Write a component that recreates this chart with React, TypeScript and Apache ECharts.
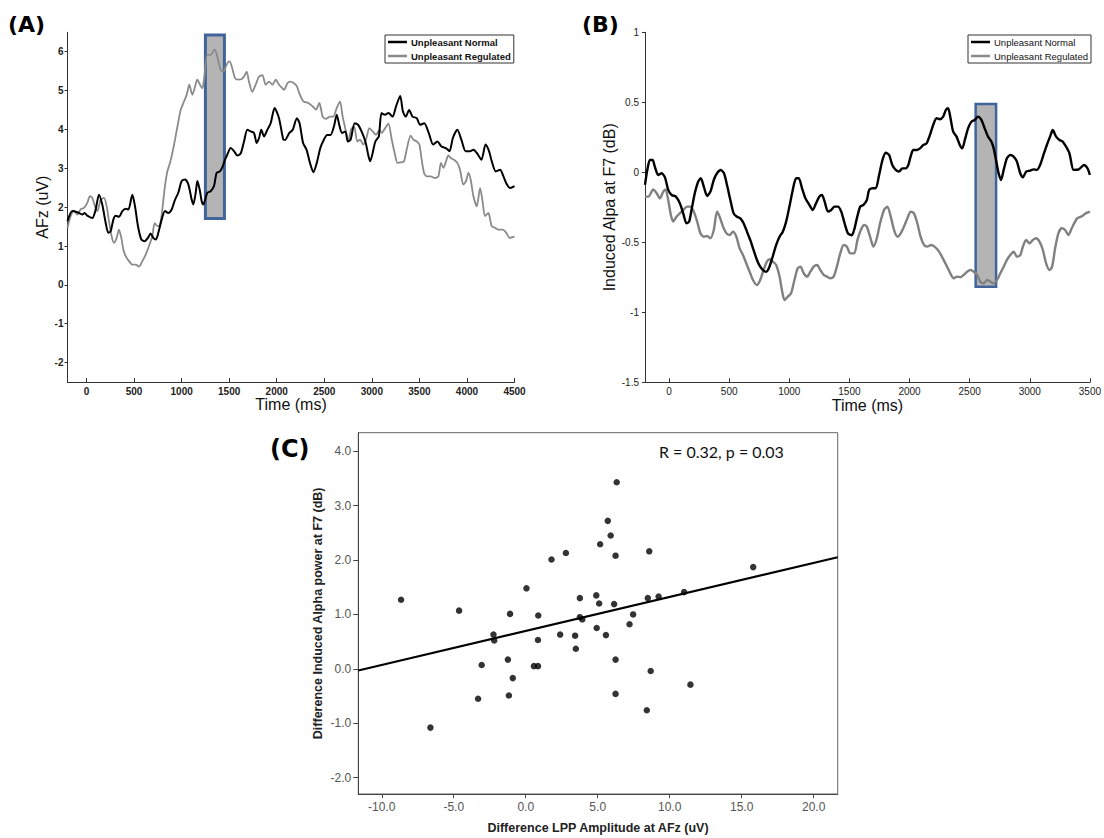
import React, { useEffect, useRef } from "react";
import * as echarts from "echarts";

// ---------- Panel A: AFz ERP (uV) ----------
const aNormal: [number, number][] = [
  [-200,1.64],[-149,1.90],[-97,1.87],[-44,1.81],[-20,1.85],[8,1.78],[61,1.72],[96,1.94],[131,2.32],[166,2.06],
  [201,1.60],[229,1.34],[254,1.38],[282,1.68],[306,1.78],[341,1.75],[377,1.90],[412,1.96],[440,1.94],[482,2.32],
  [510,2.02],[541,1.51],[576,1.17],[611,1.12],[646,1.21],[674,1.32],[702,1.21],[730,1.17],[755,1.34],[790,1.68],
  [825,1.90],[860,1.85],[895,1.94],[930,2.19],[965,2.37],[1000,2.67],[1036,2.71],[1071,2.58],[1106,2.19],[1123,2.07],
  [1148,2.37],[1165,2.67],[1190,2.45],[1211,2.15],[1228,2.07],[1270,2.37],[1305,2.41],[1340,2.54],[1368,2.88],[1403,2.92],
  [1432,3.05],[1456,3.22],[1480,3.35],[1516,3.52],[1551,3.44],[1586,3.33],[1621,3.38],[1656,3.69],[1691,3.99],[1726,3.95],
  [1761,3.91],[1789,3.65],[1814,3.78],[1838,3.99],[1866,3.82],[1901,3.99],[1936,4.16],[1978,4.55],[2024,4.29],[2069,3.74],
  [2088,3.73],[2132,3.91],[2168,3.99],[2212,4.29],[2240,4.16],[2277,3.65],[2313,3.48],[2349,3.14],[2385,2.90],[2421,3.14],
  [2458,3.52],[2494,3.73],[2530,3.86],[2566,3.86],[2602,4.08],[2631,4.38],[2657,4.12],[2686,3.91],[2722,3.95],[2747,3.69],
  [2776,3.73],[2820,4.16],[2856,4.12],[2899,3.91],[2936,3.65],[2965,3.31],[2983,3.18],[3008,3.39],[3037,3.69],[3073,3.82],
  [3102,4.42],[3138,4.38],[3175,4.42],[3218,4.33],[3254,4.59],[3298,4.86],[3327,4.46],[3356,4.33],[3392,4.50],[3428,4.33],
  [3472,4.29],[3508,4.12],[3551,4.16],[3598,3.91],[3645,3.61],[3689,3.69],[3732,3.56],[3779,3.52],[3816,3.44],[3852,3.78],
  [3899,3.99],[3942,3.73],[3986,3.44],[4033,3.44],[4069,3.48],[4105,3.39],[4152,3.22],[4196,3.61],[4232,3.44],[4261,3.18],
  [4304,2.92],[4348,2.96],[4384,2.79],[4420,2.58],[4456,2.49],[4500,2.54]
];
const aRegulated: [number, number][] = [
  [-200,1.47],[-167,1.77],[-132,1.90],[-97,1.81],[-62,1.94],[-27,1.98],[8,2.11],[36,2.28],[61,2.24],[89,2.02],
  [114,1.90],[149,2.19],[184,2.24],[212,2.02],[236,1.64],[264,1.25],[289,1.08],[317,1.21],[341,1.42],[366,1.21],
  [387,0.91],[412,0.74],[447,0.61],[482,0.52],[517,0.52],[552,0.47],[587,0.61],[622,0.78],[657,1.00],[692,1.25],
  [716,1.59],[745,1.51],[773,1.55],[797,1.94],[822,2.49],[850,2.92],[878,3.14],[902,3.39],[930,3.73],[962,4.16],
  [990,4.50],[1025,4.72],[1053,4.89],[1081,5.15],[1113,4.89],[1141,5.10],[1165,5.28],[1193,5.15],[1218,5.06],[1235,5.28],
  [1270,5.92],[1305,5.92],[1347,6.06],[1375,5.87],[1411,5.53],[1438,5.49],[1480,5.70],[1505,5.75],[1533,5.57],[1561,5.32],
  [1593,5.28],[1628,5.29],[1656,5.36],[1684,5.49],[1708,5.23],[1743,4.97],[1778,5.15],[1814,5.36],[1849,5.40],[1884,5.15],
  [1919,5.23],[1954,5.15],[1989,5.28],[2024,5.15],[2059,5.06],[2077,5.02],[2112,5.19],[2140,5.23],[2182,5.19],[2210,5.12],
  [2238,4.93],[2280,4.72],[2332,4.68],[2378,4.59],[2413,4.51],[2448,4.68],[2483,4.33],[2518,4.27],[2560,4.33],[2595,4.33],
  [2630,4.55],[2665,4.72],[2693,4.33],[2728,3.95],[2753,3.69],[2781,3.99],[2813,4.08],[2848,3.69],[2876,3.74],[2911,3.61],
  [2939,3.74],[2974,4.03],[3009,3.95],[3044,3.86],[3079,3.99],[3104,3.91],[3139,4.03],[3174,4.15],[3209,3.74],[3244,3.35],
  [3268,3.14],[3303,3.15],[3338,3.18],[3366,3.48],[3408,3.84],[3436,3.74],[3472,3.69],[3500,3.61],[3524,3.22],[3549,2.88],
  [3577,2.79],[3619,2.79],[3664,2.75],[3699,2.79],[3727,3.14],[3752,3.01],[3780,3.18],[3804,3.33],[3833,3.26],[3864,3.22],
  [3899,3.14],[3927,2.96],[3962,2.58],[3990,2.67],[4015,2.88],[4039,2.71],[4068,2.28],[4103,2.02],[4138,2.49],[4162,2.19],
  [4190,1.77],[4225,1.85],[4260,1.51],[4295,1.47],[4330,1.42],[4377,1.42],[4413,1.34],[4449,1.21],[4500,1.24]
];
const aXTicks = [0, 500, 1000, 1500, 2000, 2500, 3000, 3500, 4000, 4500];
const aYTicks = [-2, -1, 0, 1, 2, 3, 4, 5, 6];
const aWindow: [number, number, number, number] = [1250, 1.71, 1450, 6.43]; // t0, v0, t1, v1

// ---------- Panel B: induced alpha at F7 (dB) ----------
const bNormal: [number, number][] = [
  [-200,-0.09],[-181,0.016],[-159,0.088],[-137,0.088],[-117,0.036],[-90,-0.019],[-62,-0.007],[-34,-0.036],[-7,-0.126],[21,-0.162],
  [57,-0.174],[90,-0.222],[118,-0.293],[145,-0.364],[167,-0.352],[187,-0.269],[214,-0.150],[242,-0.067],[264,-0.043],[289,-0.102],
  [316,-0.169],[344,-0.138],[372,-0.055],[399,-0.007],[430,0.016],[457,-0.007],[482,-0.091],[510,-0.198],[537,-0.293],[565,-0.317],
  [593,-0.329],[620,-0.364],[648,-0.424],[675,-0.483],[703,-0.555],[731,-0.626],[758,-0.674],[786,-0.702],[808,-0.710],[830,-0.686],
  [858,-0.614],[891,-0.519],[919,-0.460],[946,-0.424],[974,-0.352],[1001,-0.245],[1029,-0.126],[1057,-0.043],[1079,-0.043],[1106,-0.114],
  [1134,-0.186],[1167,-0.233],[1195,-0.269],[1222,-0.222],[1250,-0.174],[1272,-0.162],[1294,-0.210],[1322,-0.281],[1349,-0.269],[1377,-0.245],
  [1405,-0.245],[1432,-0.281],[1460,-0.364],[1488,-0.436],[1520,-0.450],[1543,-0.400],[1562,-0.329],[1590,-0.245],[1617,-0.233],[1645,-0.198],
  [1664,-0.126],[1692,-0.114],[1719,-0.114],[1747,-0.019],[1775,0.088],[1802,0.140],[1830,0.124],[1857,0.052],[1885,0.017],[1913,0.005],
  [1940,0.028],[1968,0.028],[1990,0.052],[2009,0.112],[2031,0.159],[2059,0.159],[2087,0.171],[2114,0.195],[2142,0.207],[2170,0.267],
  [2197,0.338],[2225,0.386],[2252,0.379],[2280,0.398],[2302,0.445],[2321,0.457],[2341,0.386],[2363,0.290],[2391,0.255],[2418,0.195],
  [2438,0.171],[2460,0.231],[2487,0.314],[2515,0.362],[2542,0.374],[2570,0.398],[2598,0.374],[2625,0.314],[2653,0.255],[2681,0.219],
  [2700,0.171],[2722,0.076],[2741,-0.007],[2761,-0.055],[2783,0.017],[2810,0.100],[2838,0.124],[2866,0.112],[2893,0.076],[2921,-0.007],
  [2943,-0.036],[2970,0.005],[3004,0.012],[3031,0.021],[3059,0.017],[3086,0.052],[3114,0.124],[3142,0.195],[3169,0.255],[3191,0.302],
  [3219,0.255],[3247,0.231],[3274,0.219],[3302,0.183],[3330,0.136],[3365,0.017],[3408,0.021],[3451,0.052],[3480,0.029],[3500,-0.019]
];
const bRegulated: [number, number][] = [
  [-200,-0.174],[-172,-0.174],[-131,-0.122],[-103,-0.150],[-76,-0.186],[-48,-0.138],[-29,-0.122],[-7,-0.198],[15,-0.305],[35,-0.352],
  [62,-0.317],[90,-0.293],[118,-0.269],[151,-0.245],[178,-0.245],[206,-0.281],[234,-0.352],[261,-0.436],[289,-0.460],[316,-0.455],
  [344,-0.471],[372,-0.412],[399,-0.281],[421,-0.317],[449,-0.388],[477,-0.436],[504,-0.448],[532,-0.424],[560,-0.460],[587,-0.543],
  [615,-0.591],[642,-0.650],[670,-0.710],[698,-0.769],[731,-0.805],[758,-0.769],[786,-0.698],[814,-0.638],[836,-0.621],[863,-0.638],
  [891,-0.662],[919,-0.745],[941,-0.852],[960,-0.912],[988,-0.888],[1015,-0.864],[1043,-0.769],[1070,-0.686],[1093,-0.674],[1120,-0.721],
  [1148,-0.745],[1175,-0.710],[1203,-0.674],[1231,-0.662],[1258,-0.698],[1286,-0.733],[1314,-0.745],[1341,-0.757],[1369,-0.745],[1396,-0.674],
  [1424,-0.579],[1452,-0.519],[1479,-0.531],[1507,-0.579],[1540,-0.579],[1567,-0.483],[1595,-0.412],[1623,-0.376],[1645,-0.388],[1672,-0.460],
  [1700,-0.531],[1728,-0.471],[1755,-0.364],[1788,-0.269],[1816,-0.245],[1844,-0.317],[1871,-0.412],[1899,-0.460],[1927,-0.436],[1954,-0.388],
  [1982,-0.329],[2009,-0.281],[2037,-0.293],[2065,-0.364],[2092,-0.460],[2120,-0.519],[2147,-0.531],[2181,-0.519],[2208,-0.531],[2236,-0.555],
  [2263,-0.591],[2291,-0.638],[2319,-0.686],[2346,-0.733],[2368,-0.757],[2396,-0.745],[2424,-0.750],[2451,-0.733],[2479,-0.710],[2507,-0.698],
  [2534,-0.710],[2562,-0.733],[2589,-0.781],[2617,-0.793],[2645,-0.769],[2672,-0.781],[2700,-0.793],[2728,-0.769],[2755,-0.721],[2783,-0.674],
  [2810,-0.626],[2838,-0.591],[2866,-0.567],[2893,-0.603],[2921,-0.591],[2943,-0.531],[2970,-0.483],[2998,-0.507],[3026,-0.483],[3053,-0.471],
  [3081,-0.495],[3109,-0.555],[3136,-0.650],[3164,-0.698],[3186,-0.674],[3211,-0.543],[3238,-0.436],[3266,-0.400],[3294,-0.412],[3321,-0.448],
  [3349,-0.400],[3394,-0.329],[3437,-0.312],[3466,-0.293],[3500,-0.281]
];
const bXTicks = [0, 500, 1000, 1500, 2000, 2500, 3000, 3500];
const bYTicks = [-1.5, -1, -0.5, 0, 0.5, 1];
const bWindow: [number, number, number, number] = [2550, -0.817, 2720, 0.488]; // t0, v0, t1, v1

// ---------- Panel C: scatter ----------
const cPoints: [number, number][] = [
  [-8.66,1.27],[-6.62,-1.08],[-4.63,1.07],[-3.31,-0.55],[-3.06,0.07],[-2.24,0.63],[-2.19,0.52],[-1.24,0.17],[-1.17,-0.49],[-1.09,1.01],
  [-0.90,-0.17],[0.05,1.48],[0.57,0.05],[0.85,0.05],[0.85,0.53],[0.87,0.98],[1.79,2.01],[2.39,0.63],[2.79,2.13],[3.43,0.61],
  [3.48,0.37],[3.76,1.30],[3.76,0.95],[3.93,0.91],[4.90,1.35],[4.93,0.75],[5.10,1.20],[5.17,2.29],[5.57,0.62],[5.70,2.72],
  [5.90,2.45],[6.14,1.19],[6.24,2.08],[6.24,0.17],[6.24,-0.46],[6.32,3.43],[7.21,0.82],[7.46,1.00],[8.41,-0.76],[8.48,1.30],
  [8.58,2.16],[8.68,-0.04],[9.23,1.33],[11.00,1.41],[11.44,-0.29],[15.80,1.87]
];
const cFit = { intercept: 0.697, slope: 0.0625 };
const cXRange = [-11.63, 21.67];
const cYRange = [-2.3, 4.34];
const cXTicks = [-10, -5, 0, 5, 10, 15, 20];
const cYTicks = [-2, -1, 0, 1, 2, 3, 4];

const FONT = "'Liberation Sans', Arial, sans-serif";

export default function App() {
  const ref = useRef<HTMLDivElement>(null);
  useEffect(() => {
    if (!ref.current) return;
    const chart = echarts.init(ref.current, undefined, { renderer: "svg" });

    const plain = (v: number) => String(v);

    const mlAxisX = (grid: number, min: number, max: number, ticks: number[], bold: boolean) => ({
      gridIndex: grid, type: "value", min, max,
      axisLine: { show: true, onZero: false, lineStyle: { color: "#333", width: 1 } },
      axisTick: { show: true, inside: true, length: 4, customValues: ticks, lineStyle: { color: "#333" } },
      axisLabel: { customValues: ticks, formatter: plain, fontSize: 10, fontWeight: bold ? "bold" : "normal", color: "#222", margin: 4, fontFamily: FONT },
      splitLine: { show: false },
      name: "Time (ms)", nameLocation: "middle", nameGap: 12,
      nameTextStyle: { fontSize: 16, color: "#111", fontFamily: FONT },
    });
    const mlAxisY = (grid: number, min: number, max: number, ticks: number[], bold: boolean, name: string, gap: number, margin: number) => ({
      gridIndex: grid, type: "value", min, max,
      axisLine: { show: true, onZero: false, lineStyle: { color: "#333", width: 1 } },
      axisTick: { show: true, inside: false, length: 3, customValues: ticks, lineStyle: { color: "#333" } },
      axisLabel: { customValues: ticks, formatter: plain, fontSize: 10, fontWeight: bold ? "bold" : "normal", color: "#222", margin, fontFamily: FONT },
      splitLine: { show: false },
      name, nameLocation: "middle", nameGap: gap,
      nameTextStyle: { fontSize: 16, color: "#111", fontFamily: FONT },
    });

    const windowSeries = (axis: number, w: [number, number, number, number], bw: number) => ({
      type: "custom", name: "window", xAxisIndex: axis, yAxisIndex: axis, z: 1, silent: true,
      data: [w],
      renderItem: (_p: any, api: any) => {
        const tl = api.coord([api.value(0), api.value(3)]);
        const br = api.coord([api.value(2), api.value(1)]);
        return {
          type: "rect",
          shape: { x: tl[0], y: tl[1], width: br[0] - tl[0], height: br[1] - tl[1] },
          style: { fill: "#b4b4b4", stroke: "#41659a", lineWidth: bw },
        };
      },
    });

    const legendCfg = (left: number, bold: boolean) => ({
      left, top: 35, orient: "vertical", selectedMode: false,
      data: ["Unpleasant Normal", "Unpleasant Regulated"],
      borderColor: "#333", borderWidth: 1, padding: [1, 3, 1, 3], itemGap: 2,
      itemWidth: 19, itemHeight: 2.5, icon: "rect",
      textStyle: { fontSize: 9.5, lineHeight: 12, fontWeight: bold ? "bold" : "normal", color: "#111", fontFamily: FONT, padding: [0, 0, 0, -1] },
    });

    const fitLine: [number, number][] = cXRange.map((x) => [x, cFit.intercept + cFit.slope * x]);

    chart.setOption({
      animation: false,
      backgroundColor: "#fff",
      textStyle: { fontFamily: FONT },
      title: [
        { text: "(A)", left: 8, top: 13, padding: 0, textStyle: { fontFamily: "'DejaVu Sans', sans-serif", fontWeight: "bold", fontSize: 22, color: "#000" } },
        { text: "(B)", left: 582, top: 13, padding: 0, textStyle: { fontFamily: "'DejaVu Sans', sans-serif", fontWeight: "bold", fontSize: 22, color: "#000" } },
        { text: "(C)", left: 270, top: 437, padding: 0, textStyle: { fontFamily: "'DejaVu Sans', sans-serif", fontWeight: "bold", fontSize: 24, color: "#000" } },
      ],
      legend: [legendCfg(385, true), legendCfg(968, false)],
      grid: [
        { left: 67.5, top: 32.3, width: 447, height: 349.7 },
        { left: 645, top: 32.3, width: 446.6, height: 350 },
        { left: 358.3, top: 432.7, width: 479.4, height: 361.3, show: true, borderColor: "#666", borderWidth: 1 },
      ],
      xAxis: [
        mlAxisX(0, -200, 4500, aXTicks, true),
        mlAxisX(1, -200, 3500, bXTicks, false),
        {
          gridIndex: 2, type: "value", min: cXRange[0], max: cXRange[1],
          axisLine: { show: true, onZero: false, lineStyle: { color: "#444" } },
          axisTick: { show: true, inside: false, length: 4, customValues: cXTicks, lineStyle: { color: "#444" } },
          axisLabel: { customValues: cXTicks, fontSize: 12, color: "#555", margin: 7, formatter: (v: number) => v.toFixed(1) },
          splitLine: { show: false },
          name: "Difference LPP Amplitude at AFz (uV)", nameLocation: "middle", nameGap: 27,
          nameTextStyle: { fontSize: 12.5, fontWeight: "bold", color: "#222" },
        },
      ],
      yAxis: [
        mlAxisY(0, -2.5, 6.5, aYTicks, true, "AFz (uV)", 11.5, 4),
        mlAxisY(1, -1.5, 1, bYTicks, false, "Induced Alpa at F7 (dB)", 20, 6),
        {
          gridIndex: 2, type: "value", min: cYRange[0], max: cYRange[1],
          axisLine: { show: true, onZero: false, lineStyle: { color: "#444" } },
          axisTick: { show: true, inside: false, length: 5, customValues: cYTicks, lineStyle: { color: "#444" } },
          axisLabel: { customValues: cYTicks, fontSize: 12, color: "#555", margin: 7, formatter: (v: number) => v.toFixed(1) },
          splitLine: { show: false },
          name: "Difference Induced Alpha power at F7 (dB)", nameLocation: "middle", nameGap: 34,
          nameTextStyle: { fontSize: 12.5, fontWeight: "bold", color: "#222" },
        },
      ],
      series: [
        windowSeries(0, aWindow, 3),
        { type: "line", name: "Unpleasant Regulated", xAxisIndex: 0, yAxisIndex: 0, data: aRegulated, showSymbol: false, smooth: 0.25, z: 3,
          lineStyle: { color: "#8a8a8a", width: 1.8 }, itemStyle: { color: "#8a8a8a" } },
        { type: "line", name: "Unpleasant Normal", xAxisIndex: 0, yAxisIndex: 0, data: aNormal, showSymbol: false, smooth: 0.25, z: 4,
          lineStyle: { color: "#000", width: 2 }, itemStyle: { color: "#000" } },
        windowSeries(1, bWindow, 2.5),
        { type: "line", name: "Unpleasant Regulated", xAxisIndex: 1, yAxisIndex: 1, data: bRegulated, showSymbol: false, smooth: 0.25, z: 3,
          lineStyle: { color: "#808080", width: 2.4 }, itemStyle: { color: "#808080" } },
        { type: "line", name: "Unpleasant Normal", xAxisIndex: 1, yAxisIndex: 1, data: bNormal, showSymbol: false, smooth: 0.25, z: 4,
          lineStyle: { color: "#000", width: 2.4 }, itemStyle: { color: "#000" } },
        { type: "line", name: "fit", xAxisIndex: 2, yAxisIndex: 2, data: fitLine, showSymbol: false, z: 3,
          lineStyle: { color: "#000", width: 2 } },
        { type: "scatter", name: "participants", xAxisIndex: 2, yAxisIndex: 2, data: cPoints, symbolSize: 6.5, z: 4,
          itemStyle: { color: "#000" } },
      ],
      graphic: [
        { type: "text", left: 659, top: 443, style: { text: "R = 0.32, p = 0.03", fontFamily: "Lato, 'Open Sans', sans-serif", fontSize: 16, fill: "#111" } },
      ],
    });
    return () => chart.dispose();
  }, []);
  return <div ref={ref} style={{ position: "fixed", left: 0, top: 0, width: 1104, height: 838, background: "#fff" }} />;
}
